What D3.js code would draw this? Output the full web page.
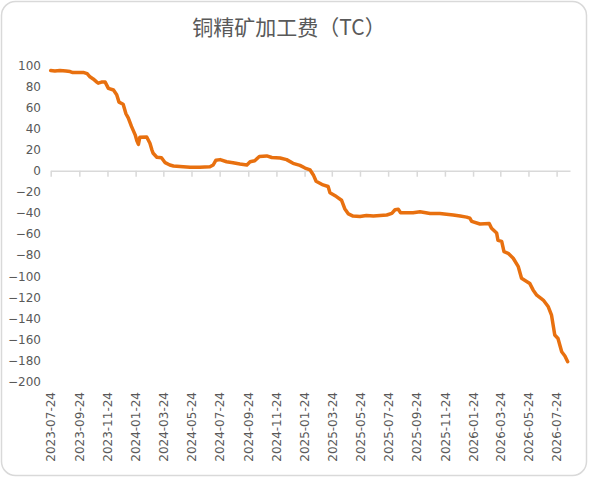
<!DOCTYPE html>
<html>
<head>
<meta charset="utf-8">
<script src="https://cdn.jsdelivr.net/npm/d3@7"></script>
<style>
  body { margin: 0; background: #fff; }
  svg { display: block; }
  .tick text { font-family: "DejaVu Sans", sans-serif; font-size: 12px; fill: #595959; }
</style>
</head>
<body>
<svg width="589" height="478"></svg>
<script>
  const title = '铜精矿加工费（TC）';

  const dates = [
    '2023-07-24', '2023-08-02', '2023-08-13', '2023-08-26', '2023-09-04', '2023-09-10',
    '2023-09-25', '2023-10-04', '2023-10-11', '2023-10-17', '2023-10-24', '2023-11-01',
    '2023-11-04', '2023-11-11', '2023-11-19', '2023-11-26', '2023-12-07', '2023-12-14',
    '2023-12-19', '2023-12-28', '2024-01-03', '2024-01-08', '2024-01-15', '2024-01-23',
    '2024-01-27', '2024-01-30', '2024-02-02', '2024-02-17', '2024-02-24', '2024-02-28',
    '2024-03-02', '2024-03-10', '2024-03-20', '2024-03-28', '2024-04-07', '2024-04-15',
    '2024-05-06', '2024-05-21', '2024-06-11', '2024-07-03', '2024-07-10', '2024-07-16',
    '2024-07-25', '2024-08-08', '2024-08-22', '2024-09-06', '2024-09-21', '2024-09-28',
    '2024-10-08', '2024-10-18', '2024-11-03', '2024-11-14', '2024-12-02', '2024-12-16',
    '2024-12-30', '2025-01-14', '2025-01-25', '2025-02-05', '2025-02-12', '2025-02-18',
    '2025-03-05', '2025-03-16', '2025-03-20', '2025-04-03', '2025-04-14', '2025-04-21',
    '2025-04-29', '2025-05-09', '2025-05-24', '2025-06-07', '2025-06-22', '2025-07-21',
    '2025-08-01', '2025-08-08', '2025-08-15', '2025-08-20', '2025-09-16', '2025-10-01',
    '2025-10-23', '2025-11-13', '2025-12-12', '2025-12-27', '2026-01-10', '2026-01-17',
    '2026-01-21', '2026-02-08', '2026-02-28', '2026-03-05', '2026-03-16', '2026-03-19',
    '2026-03-27', '2026-04-01', '2026-04-10', '2026-04-21', '2026-05-02', '2026-05-09',
    '2026-05-20', '2026-05-27', '2026-06-03', '2026-06-11', '2026-06-25', '2026-07-06',
    '2026-07-13', '2026-07-20', '2026-07-27', '2026-08-04', '2026-08-11', '2026-08-17'
  ];

  const tcValues = [
    95, 94.5, 95, 94.5, 94, 93,
    93, 93, 92, 89, 87, 84,
    83, 84, 84, 78, 76.5, 72,
    65, 63, 54, 50, 42, 34,
    28, 25, 31.6, 32, 26, 20,
    16.5, 12.7, 12.3, 7.6, 5.4, 4.5,
    3.8, 3.2, 3.2, 3.8, 5.4, 10,
    10.5, 8.5, 7.6, 6.4, 5.5, 8.5,
    9.5, 13.5, 14, 12.5, 12, 10.5,
    7, 5, 2.5, 0.7, -4, -10,
    -13.5, -15, -21, -24.5, -28, -36,
    -41, -43, -43.5, -42.5, -43, -42,
    -40.5, -37, -36.6, -39.8, -39.8, -39,
    -40.5, -40.5, -42, -43, -44, -45,
    -48, -50.5, -50, -54.6, -59, -66,
    -67, -76.8, -78.3, -83, -91, -102,
    -105, -107, -113, -118, -122.6, -129,
    -137, -155.7, -159, -171.6, -175.6, -181
  ];

  const xTickLabels = [
    '2023-07-24', '2023-09-24', '2023-11-24', '2024-01-24', '2024-03-24', '2024-05-24',
    '2024-07-24', '2024-09-24', '2024-11-24', '2025-01-24', '2025-03-24', '2025-05-24',
    '2025-07-24', '2025-09-24', '2025-11-24', '2026-01-24', '2026-03-24', '2026-05-24',
    '2026-07-24'
  ];

  const yTicks = [100, 80, 60, 40, 20, 0, -20, -40, -60, -80, -100, -120, -140, -160, -180, -200];

  const parseDate = d3.timeParse('%Y-%m-%d');
  const formatDate = d3.timeFormat('%Y-%m-%d');

  const data = dates.map((d, i) => ({ date: parseDate(d), value: tcValues[i] }));

  const svg = d3.select('svg');
  const width = +svg.attr('width');
  const height = +svg.attr('height');

  // chart frame
  svg.append('rect')
    .attr('x', 1.5)
    .attr('y', 1.5)
    .attr('width', width - 4)
    .attr('height', height - 4)
    .attr('rx', 14)
    .attr('fill', '#fff')
    .attr('stroke', '#d9d9d9')
    .attr('stroke-width', 1.5);

  svg.append('text')
    .attr('x', 289)
    .attr('y', 35)
    .attr('text-anchor', 'middle')
    .attr('font-family', '"Noto Sans CJK SC", sans-serif')
    .attr('font-size', 21)
    .attr('fill', '#595959')
    .text(title);

  const xScale = d3.scaleTime()
    .domain([parseDate('2023-07-24'), parseDate('2026-08-22')])
    .range([50.7, 570]);

  const yScale = d3.scaleLinear()
    .domain([-200, 100])
    .range([381.7, 65.2]);

  const tickDates = xTickLabels.map(parseDate);

  // y axis labels, no axis line
  const yAxisG = svg.append('g')
    .attr('transform', 'translate(41,0)')
    .call(d3.axisLeft(yScale).tickValues(yTicks).tickSize(0).tickPadding(0));
  yAxisG.select('.domain').remove();

  // zero line with tick marks
  const zeroG = svg.append('g')
    .attr('transform', `translate(0,${yScale(0)})`)
    .call(d3.axisBottom(xScale).tickValues(tickDates).tickFormat('').tickSize(6).tickSizeOuter(0));
  zeroG.select('.domain').attr('stroke', '#d9d9d9').attr('stroke-width', 1.5);
  zeroG.selectAll('.tick line').attr('stroke', '#d9d9d9').attr('stroke-width', 1.5);

  // date labels at the low end
  const xLabelG = svg.append('g')
    .attr('transform', 'translate(0,392)')
    .call(d3.axisBottom(xScale).tickValues(tickDates).tickFormat(formatDate).tickSize(0).tickPadding(0));
  xLabelG.select('.domain').remove();
  xLabelG.selectAll('.tick text')
    .attr('transform', 'rotate(-90)')
    .attr('text-anchor', 'end')
    .attr('x', 0)
    .attr('y', 0)
    .attr('dy', '0.35em');

  const line = d3.line()
    .x(d => xScale(d.date))
    .y(d => yScale(d.value));

  svg.append('path')
    .datum(data)
    .attr('fill', 'none')
    .attr('stroke', '#e8700f')
    .attr('stroke-width', 3.5)
    .attr('stroke-linejoin', 'round')
    .attr('stroke-linecap', 'round')
    .attr('d', line);
</script>
</body>
</html>
